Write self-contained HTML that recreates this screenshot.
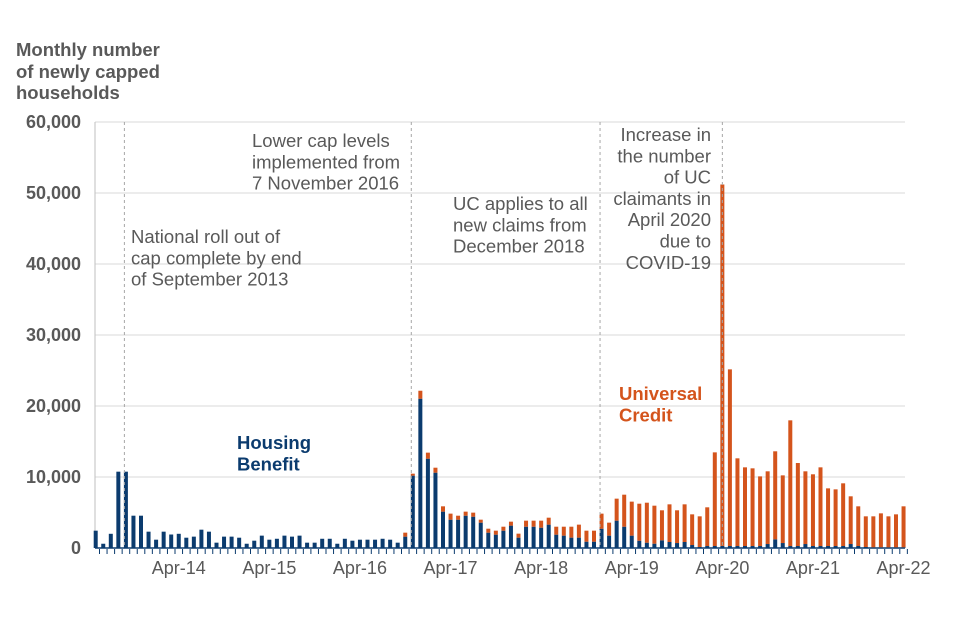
<!DOCTYPE html>
<html><head><meta charset="utf-8"><style>
body{margin:0;background:#fff;}
svg{display:block;font-family:"Liberation Sans",Arial,sans-serif;}
.ann{fill:#595959;font-size:18.5px;}
.ax{fill:#595959;font-size:18px;}
</style></head><body>
<svg width="960" height="640" id="chart">
<g font-weight="bold" fill="#595959" font-size="18.5">
<text x="16" y="56">Monthly number</text><text x="16" y="78">of newly capped</text><text x="16" y="99">households</text>
</g>
<g id="grid"></g><g id="bars"></g><g id="ann"></g>
</svg>
<script>
const startLabel = "May 2013";
const hbValues = [2440,600,2000,10750,10750,4550,4550,2300,1170,2300,1900,2000,1450,1600,2580,2300,750,1600,1600,1450,600,1030,1740,1170,1300,1740,1600,1740,750,750,1300,1300,600,1300,1030,1170,1170,1170,1300,1170,750,1600,
10190,21030,12580,10610,5120,3990,3990,4550,4410,3570,2160,1880,2440,3150,1460,3000,3000,2860,3290,1880,1740,1460,1460,890,890,2720,1740,3850,3000,1740,1030,750,610,
1080,845,700,845,420,140,280,280,300,280,280,280,280,280,560,1220,700,280,280,560,280,280,280,280,280,560,280,140,100,100,100,100,100];
const ucValues = [0,0,0,0,0,0,0,0,0,0,0,0,0,0,0,0,0,0,0,0,0,0,0,0,0,0,0,0,0,0,0,0,0,0,0,0,0,0,0,0,0,560,
280,1120,850,700,750,850,560,570,570,420,560,560,560,560,560,850,850,990,980,1120,1260,1540,1830,1550,1550,2120,1830,3100,4510,4790,5210,5630,5350,
4230,5305,4610,5305,4320,4320,5450,13190,50900,24880,12350,11080,10940,9810,10240,12400,9530,17700,11690,10240,10100,11080,8120,7980,8830,6720,5590,4320,4360,4780,4360,4640,5770];
const yTicks = [0,10000,20000,30000,40000,50000,60000];
const yTickLabels = ["0","10,000","20,000","30,000","40,000","50,000","60,000"];
const xLabelIdx = [11,23,35,47,59,71,83,95,107];
const xLabels = ["Apr-14","Apr-15","Apr-16","Apr-17","Apr-18","Apr-19","Apr-20","Apr-21","Apr-22"];
const eventIdx = [3.8,41.8,66.8,83];

const NS="http://www.w3.org/2000/svg";
const X0=95.7, DX=7.55, Y0=548, YS=426/60000;
const xs=i=>X0+i*DX, ys=v=>Y0-v*YS;
function mk(tag,attrs,parent,text){const e=document.createElementNS(NS,tag);for(const k in attrs)e.setAttribute(k,attrs[k]);if(text!=null)e.textContent=text;parent.appendChild(e);return e;}
const grid=document.getElementById('grid'), bars=document.getElementById('bars'), ann=document.getElementById('ann');
yTicks.forEach((t,k)=>{
 const l=mk('line',{x1:95,x2:905,y1:ys(t),y2:ys(t),stroke:t===0?'#0b3b6e':'#d9d9d9','stroke-width':t===0?1.5:1},grid);
 
 
 const tx=mk('text',{x:81,y:ys(t)+6,'text-anchor':'end','class':'ax','font-weight':'bold'},grid,yTickLabels[k]);
 
 
});
mk('line',{x1:95,x2:95,y1:122,y2:548,stroke:'#bfbfbf'},grid);
for(let i=0;i<hbValues.length;i++){
 const t=mk('line',{x1:xs(i)+3.8,x2:xs(i)+3.8,y1:549,y2:554,stroke:'#0b3b6e'},grid);
 
 
 const h=hbValues[i],u=ucValues[i]||0;
 const r1=mk('rect',{x:xs(i)-2,y:ys(h),width:4,height:h*YS,fill:'#0b3b6e'},bars);
 
 
 if(u>0){const r2=mk('rect',{x:xs(i)-2,y:ys(h+u),width:4,height:u*YS,fill:'#d4541c'},bars);
 
 }
}
xLabelIdx.forEach((i,k)=>{const t=mk('text',{x:xs(i),y:574,'text-anchor':'middle','class':'ax'},grid,xLabels[k]);
 
 });
eventIdx.forEach(i=>{const l=mk('line',{x1:xs(i),x2:xs(i),y1:122,y2:548,stroke:'#a6a6a6','stroke-dasharray':'3,3'},ann);
 
 });
function block(x,y0,lines,anchor,name,extra){const g=mk('g',{},ann);
 
 
 lines.forEach((s,k)=>mk('text',Object.assign({x:x,y:y0+k*21.3,'text-anchor':anchor},extra),g,s));}
block(131,243,["National roll out of","cap complete by end","of September 2013"],'start','annotation-rollout',{'class':'ann'});
block(252,147,["Lower cap levels","implemented from","7 November 2016"],'start','annotation-lower-cap',{'class':'ann'});
block(453,210,["UC applies to all","new claims from","December 2018"],'start','annotation-uc-all',{'class':'ann'});
block(711,141,["Increase in","the number","of UC","claimants in","April 2020","due to","COVID-19"],'end','annotation-covid',{'class':'ann'});
block(237,449,["Housing","Benefit"],'start','legend-housing-benefit',{fill:'#0b3b6e','font-weight':'bold','font-size':18.5});
block(619,400,["Universal","Credit"],'start','legend-universal-credit',{fill:'#d4541c','font-weight':'bold','font-size':18.5});
</script>
</body></html>
